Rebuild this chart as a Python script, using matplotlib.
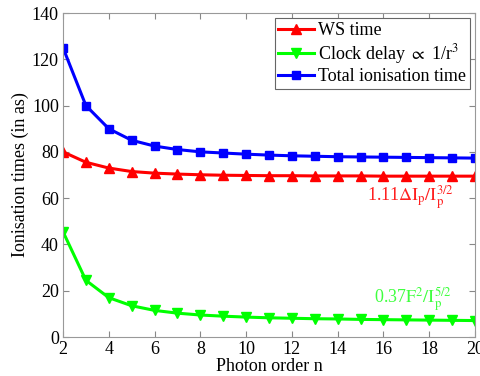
import matplotlib
matplotlib.use("Agg")
import matplotlib.pyplot as plt

plt.rcParams['font.family'] = ['Liberation Serif', 'DejaVu Serif']
plt.rcParams['mathtext.fontset'] = 'stix'

n = list(range(2, 21))
ws_time = [80, 75.5, 73, 71.5, 70.8, 70.4, 70.1, 69.9, 69.8, 69.7, 69.7, 69.6, 69.6, 69.6, 69.5, 69.5, 69.5, 69.5, 69.5]
clock_delay = [45.5, 24.5, 17, 13.5, 11.5, 10.3, 9.5, 9.0, 8.6, 8.3, 8.1, 7.9, 7.8, 7.6, 7.5, 7.4, 7.3, 7.2, 7.1]
total_time = [125, 100, 90, 85, 82.5, 81, 80, 79.5, 79, 78.6, 78.3, 78.1, 77.9, 77.8, 77.7, 77.6, 77.5, 77.4, 77.3]

fig = plt.figure(figsize=(4.8, 3.76), dpi=100)
ax = fig.add_axes([63/480, 1-337/376, (475-63)/480, (337-13)/376])

ax.plot(n, ws_time, color='#ff0000', marker='^', markersize=6.5, lw=2.2, label='WS time')
ax.plot(n, clock_delay, color='#00ff00', marker='v', markersize=6.5, lw=2.2, label=r'Clock delay $\propto$ 1/r$^3$')
ax.plot(n, total_time, color='#0000ff', marker='s', markersize=5.5, lw=2.2, label='Total ionisation time')

ax.set_xlim(2, 20)
ax.set_ylim(0, 140)
ax.set_xticks(range(2, 21, 2))
ax.set_yticks(range(0, 141, 20))
ax.tick_params(direction='in', top=True, right=True, labelsize=13, length=4, color='#888888', pad=3)
for s in ax.spines.values():
    s.set_color('#999999')
ax.set_xlabel('Photon order n', fontsize=13, labelpad=0)
ax.set_ylabel('Ionisation times (in as)', fontsize=13, labelpad=2)

leg = ax.legend(loc='upper right', fontsize=13, fancybox=False, edgecolor='#666666',
                handlelength=2.0, handletextpad=0.2, borderpad=0.2, labelspacing=0.15,
                borderaxespad=0.3, framealpha=1)
leg.get_frame().set_linewidth(0.8)

ax.text(19.1, 60.5, r'1.11$\Delta\mathrm{I_p/I_p^{3/2}}$', color='#ff2020', fontsize=13, ha='right', va='center')
ax.text(19.0, 16.5, r'0.37$\mathrm{F^2/I_p^{5/2}}$', color='#40ff40', fontsize=13, ha='right', va='center')

fig.savefig('out.png', dpi=100)
